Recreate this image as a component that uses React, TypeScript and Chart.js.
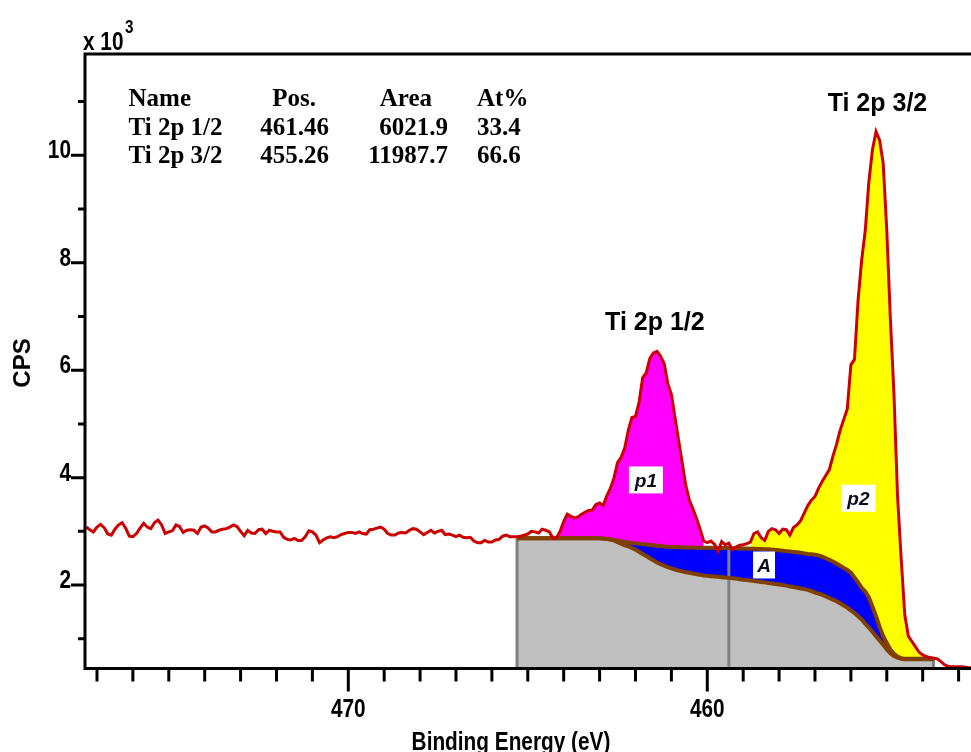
import React, { useEffect, useRef } from "react";
import { Chart, registerables } from "chart.js";

Chart.register(...registerables);

// Ti 2p region scan: binding energy grid (eV, descending, 0.1 eV steps)
const energyStart = 477.3;
const energyStep = 0.1;

// Measured intensity (CPS) at each grid energy
const spectrumCps = [
  3080, 3030, 2990, 3080, 3130, 3070, 2950, 2930, 3040, 3120,
  3160, 3060, 2910, 2900, 2960, 3060, 3150, 3080, 3050, 3160,
  3210, 3120, 2960, 2990, 3010, 3120, 3090, 2980, 3020, 3030,
  3020, 2960, 3080, 3100, 3060, 2990, 2990, 3020, 3040, 3050,
  3080, 3120, 3090, 3000, 2920, 3020, 2970, 2960, 3030, 3040,
  2960, 3020, 3000, 2990, 2990, 2890, 2850, 2840, 2870, 2830,
  2830, 2900, 3010, 2990, 2930, 2790, 2840, 2880, 2900, 2880,
  2900, 2940, 2960, 2980, 2980, 2960, 2990, 2960, 2950, 3030,
  3040, 3060, 3080, 3040, 2960, 2930, 2930, 2970, 2980, 2970,
  3020, 3050, 3040, 2990, 2940, 2980, 3020, 2970, 3000, 3020,
  2940, 2950, 2930, 2900, 2930, 2890, 2880, 2890, 2820, 2790,
  2790, 2830, 2800, 2800, 2840, 2850, 2910, 2930, 2900, 2900,
  2900, 2910, 2930, 2950, 3000, 2990, 2970, 3040, 3020, 2990,
  2870, 2880, 3000, 3180, 3320, 3280, 3250, 3270, 3320, 3360,
  3390, 3400, 3500, 3530, 3480, 3660, 3800, 3990, 4280, 4380,
  4550, 4880, 5120, 5140, 5400, 5860, 5950, 6220, 6320, 6350,
  6260, 6120, 5750, 5550, 5120, 4700, 4280, 3860, 3580, 3420,
  3240, 3040, 2820, 2790, 2820, 2760, 2630, 2810, 2750, 2780,
  2660, 2710, 2740, 2750, 2770, 2800, 2960, 2990, 2880, 2830,
  3000, 3050, 3030, 2960, 3040, 3030, 2930, 3070, 3120, 3200,
  3340, 3480, 3580, 3650, 3800, 3930, 4040, 4150, 4400, 4620,
  4880, 5080, 5280, 6100, 6200, 7300, 8050, 8600, 9500, 10100,
  10440, 10280, 9850, 8600, 6950, 5550, 3650, 2500, 1450, 1050,
  950, 850, 750, 700, 670, 650, 640, 630, 580, 520,
  490, 480, 480, 480, 480, 470, 460, 460, 460, 460, 460, 460,
];

// Shirley-type background, starting at this energy on the same grid
const backgroundStart = 465.3;

// Upper curve: background plus the "A" component
const backgroundUpper = [
  2870, 2870, 2870, 2870, 2870, 2870, 2870, 2870, 2870, 2870, 2870, 2870,
  2870, 2870, 2870, 2870, 2870, 2870, 2870, 2870, 2870, 2870, 2870, 2870,
  2865, 2860, 2850, 2840, 2825, 2815, 2805, 2795, 2785, 2778,
  2770, 2762, 2755, 2748, 2740, 2733, 2727, 2720, 2714, 2710,
  2707, 2704, 2702, 2700, 2699, 2698, 2697, 2696, 2695, 2694,
  2693, 2692, 2691, 2690, 2689, 2688, 2687, 2685, 2683, 2681,
  2679, 2677, 2675, 2673, 2671, 2669, 2667, 2660, 2655, 2648,
  2640, 2632, 2625, 2617, 2610, 2600, 2590, 2580, 2575, 2565,
  2550, 2530, 2500, 2470, 2440, 2400, 2360, 2320, 2280, 2230,
  2140, 2050, 1950, 1880, 1770, 1600, 1420, 1220, 1050, 920,
  800, 720, 670, 640, 630, 630, 630, 630, 630, 630,
  630, 630, 630,
];

// Lower curve: the background alone
const backgroundLower = [
  2870, 2870, 2870, 2870, 2870, 2870, 2870, 2870, 2870, 2870, 2870, 2870,
  2870, 2870, 2870, 2870, 2870, 2870, 2870, 2870, 2870, 2870, 2870, 2870,
  2865, 2860,
  2850, 2830, 2800, 2770, 2740, 2720, 2690, 2660, 2620, 2580,
  2540, 2500, 2460, 2420, 2390, 2360, 2335, 2310, 2290, 2270,
  2255, 2240, 2230, 2215, 2200, 2190, 2180, 2173, 2166, 2160,
  2153, 2147, 2140, 2134, 2127, 2120, 2110, 2100, 2095, 2085,
  2075, 2067, 2058, 2050, 2040, 2030, 2020, 2010, 2000, 1990,
  1975, 1963, 1950, 1937, 1925, 1910, 1890, 1860, 1840, 1820,
  1790, 1760, 1730, 1700, 1660, 1620, 1580, 1530, 1480, 1420,
  1360, 1280, 1210, 1130, 1050, 970, 890, 800, 730, 680,
  650, 630, 620, 620, 620, 620, 620, 620, 620, 620, 620,
];

// Fitted components
const peakNames = ["Ti 2p 1/2", "Ti 2p 3/2"];
const peakPositions = [461.46, 455.26];
const peakAreas = [6021.9, 11987.7];
const peakAtPercent = [33.4, 66.6];
const peakTags = ["p1", "p2"];
const peakFillRanges = [
  [464.3, 460.1],
  [458.8, 453.8],
];
const peakFillColors = ["#ff00ff", "#ffff00"];
const peakTagAnchors = [
  [461.71, 3957],
  [455.79, 3616],
];
const areaTag = "A";
const areaTagAnchor = [458.42, 2374];

// Region boundaries (eV)
const regionMarkers = [465.3, 459.4, 453.7];

// Axes
const xMin = 452.125;
const xMax = 477.334;
const yMin = 447;
const yMax = 11886;
const xMajorTicks = [470, 460];
const xMinorTicks = [
  453, 454, 455, 456, 457, 458, 459, 461, 462, 463, 464, 465,
  466, 467, 468, 469, 471, 472, 473, 474, 475, 476, 477,
];
const yMajorTicks = [2000, 4000, 6000, 8000, 10000];
const yMinorTicks = [1000, 3000, 5000, 7000, 9000, 11000];
const tableHeaders = ["Name", "Pos.", "Area", "At%"];

type Pt = { x: number; y: number };

const energyAt = (i: number) => Math.round((energyStart - i * energyStep) * 10) / 10;
const spectrumPts: Pt[] = spectrumCps.map((y, i) => ({ x: energyAt(i), y }));
const bgOffset = Math.round((energyStart - backgroundStart) / energyStep);
const upperPts: Pt[] = backgroundUpper.map((y, k) => ({ x: energyAt(k + bgOffset), y }));
const lowerPts: Pt[] = backgroundLower.map((y, k) => ({ x: energyAt(k + bgOffset), y }));

const inRange = (pts: Pt[], r: number[]) =>
  pts.filter((p) => p.x <= r[0] + 1e-6 && p.x >= r[1] - 1e-6);

const upperAt = (e: number) => {
  let best = upperPts[0];
  for (const p of upperPts) if (Math.abs(p.x - e) < Math.abs(best.x - e)) best = p;
  return best.y;
};

function drawText(
  ctx: CanvasRenderingContext2D,
  text: string,
  x: number,
  y: number,
  font: string,
  align: CanvasTextAlign,
  color = "#000",
  hScale = 1
) {
  ctx.save();
  ctx.font = font;
  ctx.fillStyle = color;
  ctx.textAlign = align;
  ctx.textBaseline = "alphabetic";
  ctx.translate(x, y);
  ctx.scale(hScale, 1);
  ctx.fillText(text, 0, 0);
  ctx.restore();
}

const decorPlugin = {
  id: "xpsDecor",
  afterDraw(chart: any) {
    const { ctx, chartArea: a } = chart;
    const xs = chart.scales.x;
    const ys = chart.scales.y;
    const W = chart.width;
    ctx.save();

    // frame
    ctx.strokeStyle = "#000";
    ctx.lineWidth = 3;
    ctx.lineJoin = "miter";
    ctx.beginPath();
    ctx.moveTo(W + 5, a.top);
    ctx.lineTo(a.left, a.top);
    ctx.lineTo(a.left, a.bottom);
    ctx.lineTo(W + 5, a.bottom);
    ctx.stroke();

    // x ticks
    ctx.beginPath();
    for (const v of xMinorTicks) {
      const px = xs.getPixelForValue(v);
      ctx.moveTo(px, a.bottom);
      ctx.lineTo(px, a.bottom + 13);
    }
    for (const v of xMajorTicks) {
      const px = xs.getPixelForValue(v);
      ctx.moveTo(px, a.bottom);
      ctx.lineTo(px, a.bottom + 23);
    }
    // y ticks
    for (const v of yMinorTicks) {
      const py = ys.getPixelForValue(v);
      ctx.moveTo(a.left - 7, py);
      ctx.lineTo(a.left, py);
    }
    for (const v of yMajorTicks) {
      const py = ys.getPixelForValue(v);
      ctx.moveTo(a.left - 14, py);
      ctx.lineTo(a.left, py);
    }
    ctx.stroke();

    // condensed sans for the axis annotations
    const axisFont = "bold 26px 'Liberation Sans', Arial, sans-serif";
    const narrow = 0.8;
    for (const v of xMajorTicks) {
      drawText(ctx, String(v), xs.getPixelForValue(v), a.bottom + 48, axisFont, "center", "#000", narrow);
    }
    for (const v of yMajorTicks) {
      drawText(ctx, String(v / 1000), a.left - 14, ys.getPixelForValue(v) + 3, axisFont, "right", "#000", narrow);
    }

    // multiplier
    drawText(ctx, "x 10", a.left - 2, a.top - 4, axisFont, "left", "#000", narrow);
    drawText(ctx, "3", a.left + 40, a.top - 21, "bold 19px 'Liberation Sans', Arial, sans-serif", "left", "#000", narrow);

    // axis titles
    drawText(ctx, "Binding Energy (eV)", 511, 750, axisFont, "center", "#000", narrow);
    ctx.save();
    ctx.translate(30, 363);
    ctx.rotate(-Math.PI / 2);
    drawText(ctx, "CPS", 0, 0, "bold 24px 'Liberation Sans', Arial, sans-serif", "center");
    ctx.restore();

    // component table
    const tFont = "bold 25px 'Liberation Serif', 'Times New Roman', serif";
    const headX = [128.5, 316, 432, 477];
    const headAlign: CanvasTextAlign[] = ["left", "right", "right", "left"];
    const colX = [128.5, 329, 448, 477];
    const colAlign: CanvasTextAlign[] = ["left", "right", "right", "left"];
    const rowY = [106, 135, 163];
    tableHeaders.forEach((h, c) => drawText(ctx, h, headX[c], rowY[0], tFont, headAlign[c]));
    peakNames.forEach((name, r) => {
      const cells = [
        name,
        peakPositions[r].toFixed(2),
        peakAreas[r].toFixed(1),
        peakAtPercent[r].toFixed(1),
      ];
      cells.forEach((t, c) => drawText(ctx, t, colX[c], rowY[r + 1], tFont, colAlign[c]));
    });

    // peak names above the maxima
    const labelFont = "bold 25px 'Liberation Sans', Arial, sans-serif";
    peakNames.forEach((name, k) => {
      const top = Math.max(...inRange(spectrumPts, peakFillRanges[k]).map((p) => p.y));
      drawText(ctx, name, xs.getPixelForValue(peakPositions[k]), ys.getPixelForValue(top) - 21, labelFont, "center");
    });

    // component tags in white boxes
    const tagFont = "italic bold 19px 'Liberation Sans', Arial, sans-serif";
    const tag = (text: string, e: number, v: number, w: number) => {
      const cx = xs.getPixelForValue(e);
      const cy = ys.getPixelForValue(v);
      ctx.fillStyle = "#ffffff";
      ctx.fillRect(cx - w / 2, cy - 13.5, w, 27);
      drawText(ctx, text, cx, cy + 7, tagFont, "center", "#0a0a1e");
    };
    peakTags.forEach((t, k) => tag(t, peakTagAnchors[k][0], peakTagAnchors[k][1], 34));
    tag(areaTag, areaTagAnchor[0], areaTagAnchor[1], 22);

    ctx.restore();
  },
};

export default function App() {
  const canvasRef = useRef<HTMLCanvasElement | null>(null);

  useEffect(() => {
    if (!canvasRef.current) return;
    const hidden = { borderWidth: 0, borderColor: "transparent", pointRadius: 0 };
    const datasets: any[] = [
      // 0: background area down to the axis
      { ...hidden, data: lowerPts, fill: "start", backgroundColor: "#c0c0c0", order: 20 },
      // 1: "A" component between the two background curves
      { ...hidden, data: upperPts, fill: 0, backgroundColor: "#0000ff", order: 19 },
      // 2,3: p1 component
      { ...hidden, data: inRange(upperPts, peakFillRanges[0]), fill: false, order: 18 },
      { ...hidden, data: inRange(spectrumPts, peakFillRanges[0]), fill: 2, backgroundColor: peakFillColors[0], order: 17 },
      // 4,5: p2 component
      { ...hidden, data: inRange(upperPts, peakFillRanges[1]), fill: false, order: 18 },
      { ...hidden, data: inRange(spectrumPts, peakFillRanges[1]), fill: 4, backgroundColor: peakFillColors[1], order: 17 },
      // region boundaries
      ...regionMarkers.map((e) => ({
        data: [
          { x: e, y: yMin },
          { x: e, y: upperAt(e) },
        ],
        borderColor: "#808080",
        borderWidth: 3,
        pointRadius: 0,
        fill: false,
        order: 12,
      })),
      // background curves
      { data: lowerPts, borderColor: "#804000", borderWidth: 4, pointRadius: 0, fill: false, order: 11 },
      { data: upperPts, borderColor: "#804000", borderWidth: 4, pointRadius: 0, fill: false, order: 10 },
      // raw spectrum
      { data: spectrumPts, borderColor: "#cc0000", borderWidth: 3, pointRadius: 0, fill: false, order: 1 },
    ];

    const chart = new Chart(canvasRef.current, {
      type: "line",
      data: { datasets },
      options: {
        animation: false,
        responsive: false,
        maintainAspectRatio: false,
        devicePixelRatio: 1,
        events: [],
        layout: { padding: { left: 85, top: 54, right: 10, bottom: 83.5 } },
        elements: { point: { radius: 0, hoverRadius: 0 }, line: { tension: 0 } },
        scales: {
          x: { type: "linear", reverse: true, min: xMin, max: xMax, display: false },
          y: { type: "linear", min: yMin, max: yMax, display: false },
        },
        plugins: {
          legend: { display: false },
          tooltip: { enabled: false },
          filler: { propagate: false },
        },
      } as any,
      plugins: [decorPlugin],
    });
    return () => chart.destroy();
  }, []);

  return (
    <div
      style={{
        position: "absolute",
        left: 0,
        top: 0,
        width: 971,
        height: 752,
        overflow: "hidden",
        background: "#ffffff",
      }}
    >
      <canvas ref={canvasRef} width={1000} height={752} style={{ display: "block" }} />
    </div>
  );
}
